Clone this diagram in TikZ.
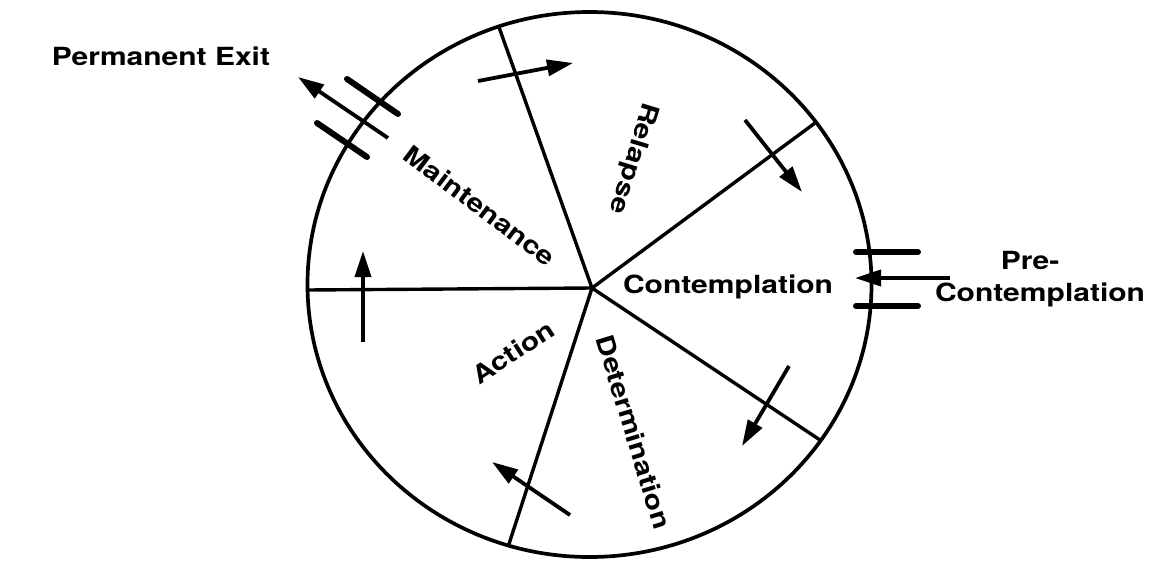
\documentclass[tikz,border=0pt]{standalone}
\usepackage{fontspec}
\usepackage{graphicx}
\setmainfont{TeX Gyre Heros}
\usetikzlibrary{arrows.meta,calc}
\newcommand{\wideword}[1]{\scalebox{1.2}[1]{#1}}
\begin{document}
\begin{tikzpicture}[x=1pt,y=1pt,
  lbl/.style={font=\fontsize{25}{30}\selectfont\bfseries, inner sep=0pt},
  rim/.style={line width=3.7pt},
  spoke/.style={line width=3.4pt},
  flow/.style={line width=3.8pt, -{Triangle[length=26pt,width=16pt]}},
  bar/.style={line width=6pt, line cap=round}]
\useasboundingbox (0,0) rectangle (1150,-562);
\coordinate (ctr) at (589.5,-284.5);
\coordinate (hub) at (592,-288);
\coordinate (eMR) at (500,-30);
\coordinate (eRC) at (815,-123);
\coordinate (eCD) at (820,-440);
\coordinate (eDA) at (508,-547);
\coordinate (eAM) at (307,-290);
\begin{scope}
  \clip (ctr) ellipse [x radius=282, y radius=272.5];
  \foreach \e in {eMR,eRC,eCD,eDA,eAM}
    \draw[spoke] (hub) -- ($(hub)!1.2!(\e)$);
\end{scope}
\draw[rim] (ctr) ellipse [x radius=282, y radius=272.5];
% stage labels
\node[lbl, rotate=-37] (maint) at (480,-206) {\wideword{Maintenance}};
\node[lbl, rotate=-107] (relapse) at (633,-158) {\wideword{Relapse}};
\node[lbl, anchor=base] (contemp) at (728,-293) {\wideword{Contemplation}};
\node[lbl, rotate=-73] (determ) at (634,-432) {\wideword{Determination}};
\node[lbl, rotate=33] (action) at (513,-352) {\wideword{Action}};
\node[lbl, anchor=base] (exit) at (161,-65) {\wideword{Permanent Exit}};
\node[lbl, anchor=base] (pre) at (1030,-269) {\wideword{Pre-}};
\node[lbl, anchor=base] (precont) at (1040,-301) {\wideword{Contemplation}};
% flow arrows
\coordinate (a1s) at (478,-81);  \coordinate (a1e) at (573,-63);
\coordinate (a2s) at (745,-120); \coordinate (a2e) at (802,-192);
\coordinate (a3s) at (789,-366); \coordinate (a3e) at (742,-446);
\coordinate (a4s) at (570,-515); \coordinate (a4e) at (492,-462);
\coordinate (a5s) at (363,-342); \coordinate (a5e) at (363,-251);
\draw[flow] (a1s) -- (a1e);
\draw[flow] (a2s) -- (a2e);
\draw[flow] (a3s) -- (a3e);
\draw[flow] (a4s) -- (a4e);
\draw[flow] (a5s) -- (a5e);
% permanent exit
\coordinate (pxs) at (388,-138); \coordinate (pxe) at (298,-77);
\draw[flow] (pxs) -- (pxe);
\draw[bar] (347,-79) -- (398,-114);
\draw[bar] (317,-123) -- (367,-157);
% pre-contemplation entry
\coordinate (pcs) at (950,-278); \coordinate (pce) at (855,-278);
\draw[flow] (pcs) -- (pce);
\draw[bar] (856,-252) -- (918,-252);
\draw[bar] (856,-306) -- (918,-306);
\end{tikzpicture}
\end{document}
